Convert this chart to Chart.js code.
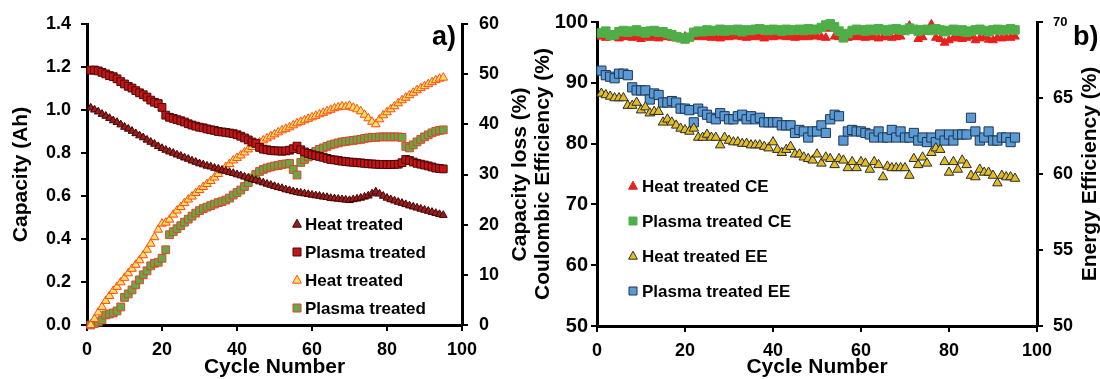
<!DOCTYPE html>
<html>
<head>
<meta charset="utf-8">
<script src="https://cdn.jsdelivr.net/npm/chart.js@4.4.0/dist/chart.umd.min.js"></script>
<style>
  html, body { margin: 0; padding: 0; background: #fff; }
  #wrap { position: relative; width: 1100px; height: 379px; overflow: hidden; }
  canvas { position: absolute; top: 0; }
  #left { left: 0; }
  #right { left: 530px; }
</style>
</head>
<body>
<div id="wrap">
  <canvas id="left" width="530" height="379"></canvas>
  <canvas id="right" width="570" height="379"></canvas>
</div>
<script>
const cycles = [
  1, 2, 3, 4, 5, 6, 7, 8, 9, 10, 11, 12, 13, 14, 15, 16, 17, 18, 19, 20,
  21, 22, 23, 24, 25, 26, 27, 28, 29, 30, 31, 32, 33, 34, 35, 36, 37, 38, 39, 40,
  41, 42, 43, 44, 45, 46, 47, 48, 49, 50, 51, 52, 53, 54, 55, 56, 57, 58, 59, 60,
  61, 62, 63, 64, 65, 66, 67, 68, 69, 70, 71, 72, 73, 74, 75, 76, 77, 78, 79, 80,
  81, 82, 83, 84, 85, 86, 87, 88, 89, 90, 91, 92, 93, 94, 95
];

// a) capacity (Ah) and capacity loss (%)
const heatCap = [
  1.010, 1.001, 0.992, 0.981, 0.972, 0.962, 0.951, 0.943, 0.932, 0.921,
  0.912, 0.902, 0.891, 0.881, 0.872, 0.861, 0.851, 0.842, 0.831, 0.822,
  0.814, 0.806, 0.800, 0.792, 0.786, 0.778, 0.772, 0.764, 0.758, 0.751,
  0.746, 0.740, 0.736, 0.730, 0.726, 0.720, 0.716, 0.710, 0.706, 0.700,
  0.695, 0.689, 0.684, 0.678, 0.673, 0.667, 0.662, 0.656, 0.651, 0.645,
  0.640, 0.636, 0.630, 0.626, 0.621, 0.617, 0.614, 0.611, 0.608, 0.605,
  0.602, 0.600, 0.596, 0.594, 0.590, 0.588, 0.586, 0.584, 0.582, 0.580,
  0.584, 0.587, 0.591, 0.596, 0.601, 0.611, 0.620, 0.610, 0.600, 0.591,
  0.584, 0.578, 0.572, 0.567, 0.561, 0.555, 0.550, 0.545, 0.540, 0.535,
  0.530, 0.525, 0.520, 0.515, 0.511
];
const plasmaCap = [
  1.185, 1.186, 1.182, 1.175, 1.168, 1.160, 1.155, 1.145, 1.132, 1.121,
  1.110, 1.102, 1.090, 1.080, 1.071, 1.060, 1.046, 1.036, 1.030, 1.012,
  0.976, 0.966, 0.961, 0.955, 0.950, 0.944, 0.936, 0.930, 0.925, 0.920,
  0.917, 0.912, 0.908, 0.905, 0.900, 0.898, 0.896, 0.893, 0.890, 0.885,
  0.878, 0.870, 0.861, 0.851, 0.845, 0.826, 0.818, 0.815, 0.812, 0.810,
  0.810, 0.808, 0.810, 0.813, 0.820, 0.832, 0.815, 0.805, 0.798, 0.792,
  0.788, 0.784, 0.780, 0.775, 0.770, 0.768, 0.765, 0.762, 0.760, 0.758,
  0.757, 0.755, 0.754, 0.752, 0.750, 0.749, 0.748, 0.747, 0.747, 0.746,
  0.746, 0.747, 0.748, 0.755, 0.770, 0.765, 0.758, 0.752, 0.748, 0.744,
  0.740, 0.735, 0.730, 0.728, 0.726
];
const heatLoss = [
  0, 1.2, 2.5, 3.6, 4.8, 5.8, 6.8, 7.6, 8.5, 9.4,
  10.3, 11.2, 12.0, 12.9, 13.9, 15.0, 16.2, 17.5, 19.0, 20.2,
  20.4, 21.0, 22.0, 22.8, 23.5, 24.3, 25.0, 25.6, 26.3, 26.9,
  27.5, 28.1, 28.7, 29.4, 30.1, 30.8, 31.5, 32.1, 32.8, 33.3,
  33.8, 34.4, 35.0, 35.5, 36.0, 36.4, 36.8, 37.2, 37.6, 38.0,
  38.4, 38.8, 39.1, 39.4, 39.8, 40.2, 40.5, 40.8, 41.1, 41.4,
  41.7, 42.0, 42.3, 42.6, 42.9, 43.2, 43.4, 43.6, 43.5, 43.7,
  43.3, 43.0, 42.6, 41.9, 41.2, 40.5, 40.0, 41.0, 41.8, 42.4,
  43.0, 43.6, 44.2, 44.8, 45.3, 45.8, 46.3, 46.8, 47.2, 47.6,
  48.0, 48.4, 48.8, 49.1, 49.3
];
const plasmaLoss = [
  0, 0.3, 0.6, 1.0, 2.0, 2.2, 2.4, 2.8, 3.6, 5.5,
  6.2, 7.0, 8.0, 9.0, 10.0, 10.8, 11.8, 12.3, 12.5, 13.3,
  15.0, 18.0, 18.6, 19.2, 19.8, 20.5, 21.1, 21.7, 22.3, 22.8,
  23.2, 23.5, 23.8, 24.1, 24.4, 24.6, 24.9, 25.3, 25.9, 26.4,
  26.9, 27.6, 28.4, 29.3, 30.0, 30.6, 31.0, 31.3, 31.5, 31.7,
  31.8, 32.0, 32.1, 32.2, 31.0, 29.9, 32.4, 33.0, 33.5, 34.2,
  34.6, 35.0, 35.3, 35.6, 35.9, 36.1, 36.3, 36.5, 36.6, 36.7,
  36.8, 36.9, 37.0, 37.2, 37.3, 37.4, 37.4, 37.5, 37.5, 37.5,
  37.5, 37.5, 37.5, 37.4, 35.6, 35.3, 35.9, 36.5, 37.0, 37.5,
  37.9, 38.3, 38.6, 38.8, 38.9
];

// b) coulombic efficiency (%) and energy efficiency (%)
const heatCE = [
  97.6, 97.4, 97.5, 97.6, 97.3, 97.5, 97.6, 97.4, 97.5, 97.2,
  97.5, 97.4, 97.6, 97.3, 97.5, 97.6, 97.4, 97.3, 97.5, 97.6,
  97.4, 97.5, 97.7, 97.5, 97.6, 97.4, 97.5, 97.3, 97.6, 97.5,
  97.7, 97.6, 97.5, 97.4, 97.6, 97.5, 97.7, 97.3, 97.6, 97.5,
  97.6, 97.7, 97.5, 97.6, 97.4, 97.5, 97.6, 97.5, 97.7, 97.6,
  97.5, 97.4, 98.9, 97.6, 97.5, 97.2, 97.4, 97.5, 97.6, 97.5,
  97.4, 97.6, 97.5, 97.3, 97.5, 97.6, 97.4, 97.5, 97.6, 98.5,
  99.4, 98.6, 97.2, 97.5, 98.4, 99.6, 97.4, 97.2, 96.6, 97.0,
  97.3, 97.5, 97.2, 97.4, 97.6, 97.0, 97.3, 97.5, 97.1, 97.0,
  97.4, 97.3, 97.5, 97.4, 97.6
];
const plasmaCE = [
  98.2, 98.5, 97.8, 97.9, 98.4, 98.6, 98.3, 98.5, 98.7, 98.4,
  98.2, 98.5, 98.6, 98.3, 98.4, 98.1, 97.9, 97.6, 97.4, 97.2,
  97.5, 98.3, 98.5, 98.4, 98.7, 98.5, 98.6, 98.8, 98.5, 98.7,
  98.6, 98.8, 98.4, 98.7, 98.6, 98.8, 98.9, 98.7, 98.6, 98.8,
  98.7, 98.5, 98.8, 98.6, 98.7, 98.8, 98.6, 98.9, 98.7, 98.8,
  99.1, 99.5, 99.7, 99.2, 98.5, 97.4, 98.1, 98.6, 98.8, 98.7,
  98.5, 98.8, 98.6, 98.9, 98.7, 98.5, 98.8, 98.9, 98.7, 98.6,
  99.0, 98.8, 98.5, 98.7, 98.8, 98.6, 98.9, 98.7, 98.4, 98.6,
  98.8, 98.5, 98.7, 98.3, 98.5, 98.7, 98.8, 98.6, 98.4, 98.7,
  98.8, 98.6, 98.7, 98.9, 98.7
];
const heatEE = [
  65.3, 65.2, 65.1, 65.0, 65.0, 65.0, 64.5, 64.5, 64.7, 64.2,
  64.4, 64.0, 64.1, 64.1, 63.4, 63.6, 63.4, 63.2, 63.0, 62.9,
  62.8, 63.0, 62.4, 62.4, 62.6, 62.4, 62.4, 61.9, 62.4, 62.2,
  62.1, 62.1, 62.0, 62.0, 61.9, 61.9, 61.9, 61.8, 61.7, 62.1,
  61.6, 61.4, 61.6, 61.8, 61.3, 61.3, 61.1, 61.0, 60.9, 61.3,
  60.7, 61.1, 61.0, 60.6, 61.0, 60.9, 60.4, 60.8, 60.4, 60.8,
  60.7, 60.3, 60.8, 60.6, 59.8, 60.5, 60.4, 60.4, 60.4, 60.4,
  59.9, 61.0, 60.6, 61.1, 60.7, 61.4, 61.7, 61.6, 60.8, 60.1,
  60.8, 60.3, 60.9, 60.6, 59.9, 59.8, 60.3, 60.1, 60.1, 59.9,
  59.4, 59.9, 59.8, 59.8, 59.7
];
const plasmaEE = [
  66.8, 66.5, 66.4, 66.3, 66.6, 66.6, 66.5, 65.7, 65.5, 65.5,
  65.5, 64.9, 65.3, 65.2, 64.7, 64.7, 64.8, 64.7, 64.3, 64.3,
  64.2, 63.4, 64.3, 64.1, 63.9, 63.7, 63.6, 64.0, 63.8, 63.6,
  63.6, 63.8, 63.9, 63.6, 63.8, 63.6, 63.7, 63.4, 63.4, 63.4,
  63.4, 63.2, 63.2, 63.2, 62.7, 62.9, 62.8, 62.4, 62.8, 62.8,
  63.2, 62.7, 63.6, 63.9, 63.8, 62.2, 62.8, 62.9, 62.8, 62.8,
  62.7, 62.6, 62.4, 62.8, 62.4, 62.4, 62.9, 62.4, 62.8, 62.4,
  62.4, 62.7, 62.2, 62.4, 62.1, 62.4, 62.1, 62.6, 62.2, 62.6,
  62.2, 62.6, 62.6, 62.6, 63.7, 62.8, 62.2, 62.4, 62.8, 62.2,
  62.2, 62.4, 62.4, 62.1, 62.4
];

const FONT = '"Liberation Sans", Arial, sans-serif';
Chart.defaults.font.family = FONT;
Chart.defaults.font.weight = 'bold';
Chart.defaults.color = '#000';

const pts = (ys) => ys.map((y, i) => ({ x: cycles[i], y: y }));

function marker(ctx, style, x, y, s, fill, stroke) {
  ctx.beginPath();
  if (style === 'triangle') {
    ctx.moveTo(x, y - s * 0.6);
    ctx.lineTo(x + s * 0.55, y + s * 0.4);
    ctx.lineTo(x - s * 0.55, y + s * 0.4);
    ctx.closePath();
  } else {
    ctx.rect(x - s / 2, y - s / 2, s, s);
  }
  ctx.fillStyle = fill;
  ctx.fill();
  ctx.lineWidth = 1;
  ctx.strokeStyle = stroke;
  ctx.stroke();
}

// right-hand titles (read bottom to top), panel letter and legend inside the plot
const extras = {
  id: 'extras',
  afterDraw(chart, args, o) {
    const ctx = chart.ctx;
    const area = chart.chartArea;
    ctx.save();
    ctx.fillStyle = '#000';
    ctx.font = 'bold 21px ' + FONT;
    ctx.textAlign = 'center';
    ctx.textBaseline = 'middle';
    ctx.translate(o.sideTitle.x, (area.top + area.bottom) / 2);
    ctx.rotate(-Math.PI / 2);
    ctx.fillText(o.sideTitle.text, 0, 0);
    ctx.restore();

    ctx.save();
    ctx.fillStyle = '#000';
    ctx.font = 'bold 27px ' + FONT;
    ctx.textAlign = 'left';
    ctx.textBaseline = 'alphabetic';
    ctx.fillText(o.panel.text, o.panel.x, o.panel.y);

    const L = o.legend;
    ctx.font = 'bold 17px ' + FONT;
    ctx.textBaseline = 'middle';
    L.order.forEach((di, row) => {
      const ds = chart.data.datasets[di];
      const y = L.y + row * L.gap;
      marker(ctx, ds.pointStyle, L.x, y, L.size, ds.backgroundColor, ds.borderColor);
      ctx.fillStyle = '#000';
      ctx.fillText(ds.label, L.textX, y + 1);
    });
    ctx.restore();
  }
};

function axisStyle() {
  return {
    grid: { drawOnChartArea: false, color: '#000', lineWidth: 2, tickLength: 6 },
    border: { color: '#000', width: 3 }
  };
}

new Chart('left', {
  type: 'scatter',
  data: {
    datasets: [
      { label: 'Heat treated', data: pts(heatCap), yAxisID: 'y', pointStyle: 'triangle',
        pointRadius: 4.5, backgroundColor: '#9E1B1B', borderColor: '#3A0505', borderWidth: 1, clip: false },
      { label: 'Plasma treated', data: pts(plasmaCap), yAxisID: 'y', pointStyle: 'rect',
        pointRadius: 5.5, backgroundColor: '#C41414', borderColor: '#4A0808', borderWidth: 1, clip: false },
      { label: 'Heat treated', data: pts(heatLoss), yAxisID: 'y2', pointStyle: 'triangle',
        pointRadius: 5, backgroundColor: '#FFE066', borderColor: '#FF4A10', borderWidth: 1, clip: false },
      { label: 'Plasma treated', data: pts(plasmaLoss), yAxisID: 'y2', pointStyle: 'rect',
        pointRadius: 5.5, backgroundColor: '#6BA646', borderColor: '#D8472C', borderWidth: 1, clip: false }
    ]
  },
  options: {
    responsive: false,
    animation: false,
    events: [],
    layout: { padding: { top: 24, left: 0, right: 0, bottom: 0 } },
    plugins: {
      legend: { display: false },
      tooltip: { enabled: false },
      extras: {
        sideTitle: { text: 'Capacity loss (%)', x: 520 },
        panel: { text: 'a)', x: 432, y: 45 },
        legend: { order: [0, 1, 2, 3], x: 297, textX: 305, y: 224, gap: 28, size: 8 }
      }
    },
    scales: {
      x: Object.assign(axisStyle(), {
        type: 'linear', min: 0, max: 100,
        ticks: { stepSize: 20, padding: 8, font: { size: 18 } },
        title: { display: true, text: 'Cycle Number', font: { size: 21, lineHeight: 1 }, padding: { top: 0, bottom: 1 } },
        afterFit(s) { s.height = 54; }
      }),
      y: Object.assign(axisStyle(), {
        type: 'linear', position: 'left', min: 0, max: 1.4,
        ticks: { stepSize: 0.2, padding: 10, font: { size: 18 }, callback: (v) => v.toFixed(1) },
        title: { display: true, text: 'Capacity (Ah)', font: { size: 21, lineHeight: 1 }, padding: { top: 11, bottom: 0 } },
        afterFit(s) { s.width = 87; }
      }),
      y2: Object.assign(axisStyle(), {
        type: 'linear', position: 'right', min: 0, max: 60,
        ticks: { stepSize: 10, padding: 11, font: { size: 18 } },
        afterFit(s) { s.width = 68; }
      })
    }
  },
  plugins: [extras]
});

new Chart('right', {
  type: 'scatter',
  data: {
    datasets: [
      { label: 'Heat treated CE', data: pts(heatCE), yAxisID: 'y', pointStyle: 'triangle', order: 2,
        pointRadius: 5, backgroundColor: '#E8201E', borderColor: '#E8201E', borderWidth: 1, clip: false },
      { label: 'Plasma treated CE', data: pts(plasmaCE), yAxisID: 'y', pointStyle: 'rect', order: 1,
        pointRadius: 6, backgroundColor: '#4FAE48', borderColor: '#4FAE48', borderWidth: 1, clip: false },
      { label: 'Heat treated EE', data: pts(heatEE), yAxisID: 'y2', pointStyle: 'triangle', order: 3,
        pointRadius: 5.5, backgroundColor: '#E2BE24', borderColor: '#2B2B2B', borderWidth: 1, clip: false },
      { label: 'Plasma treated EE', data: pts(plasmaEE), yAxisID: 'y2', pointStyle: 'rect', order: 4,
        pointRadius: 6.5, backgroundColor: '#5B9BD5', borderColor: '#1E3553', borderWidth: 1, clip: false }
    ]
  },
  options: {
    responsive: false,
    animation: false,
    events: [],
    layout: { padding: { top: 22, left: 0, right: 0, bottom: 0 } },
    plugins: {
      legend: { display: false },
      tooltip: { enabled: false },
      extras: {
        sideTitle: { text: 'Energy Efficiency (%)', x: 560 },
        panel: { text: 'b)', x: 543, y: 45 },
        legend: { order: [0, 1, 2, 3], x: 103, textX: 112, y: 186, gap: 35, size: 8 }
      }
    },
    scales: {
      x: Object.assign(axisStyle(), {
        type: 'linear', min: 0, max: 100,
        ticks: { stepSize: 20, padding: 8, font: { size: 18 } },
        title: { display: true, text: 'Cycle Number', font: { size: 21, lineHeight: 1 }, padding: { top: 0, bottom: 1 } },
        afterFit(s) { s.height = 53; }
      }),
      y: Object.assign(axisStyle(), {
        type: 'linear', position: 'left', min: 50, max: 100,
        ticks: { stepSize: 10, padding: 3, font: { size: 20 } },
        title: { display: true, text: 'Coulombic Efficiency (%)', font: { size: 21, lineHeight: 1 }, padding: { top: 3, bottom: 0 } },
        afterFit(s) { s.width = 67; }
      }),
      y2: Object.assign(axisStyle(), {
        type: 'linear', position: 'right', min: 50, max: 70,
        ticks: { stepSize: 5, padding: 10,
          font: (c) => (c.tick && c.tick.value === 70 ? { size: 13 } : { size: 18 }) },
        afterFit(s) { s.width = 63; }
      })
    }
  },
  plugins: [extras]
});
</script>
</body>
</html>
